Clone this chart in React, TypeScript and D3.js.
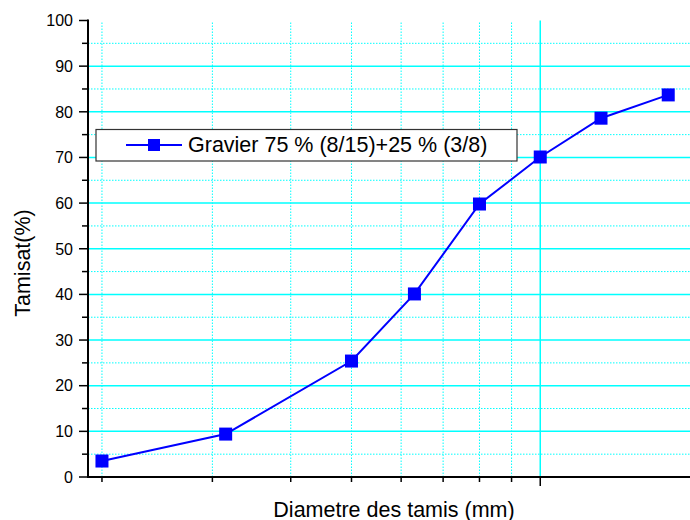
import React from "react";
import * as d3 from "d3";

const sieveSizes = [2, 3.15, 5, 6.3, 8, 10, 12.5, 16];
const passingPct = [3.5, 9.4, 25.4, 40.1, 59.8, 70.1, 78.6, 83.7];
const seriesName = "Gravier 75 % (8/15)+25 % (3/8)";
const yTicks = [0, 10, 20, 30, 40, 50, 60, 70, 80, 90, 100];
const yMinorTicks = [5, 15, 25, 35, 45, 55, 65, 75, 85, 95];
const xMajorTicks = [10];
const xMinorTicks = [2, 3, 4, 5, 6, 7, 8, 9, 20];
const xTitle = "Diametre des tamis (mm)";
const yTitle = "Tamisat(%)";

const W = 690;
const H = 520;
const left = 88;
const top = 20.5;
const bottom = 477;
const right = 729;

export default function App() {
  const x = d3.scaleLog().domain([1.9, 20]).range([left, right]);
  const y = d3.scaleLinear().domain([0, 100]).range([bottom, top]);
  const line = d3
    .line<number>()
    .x((_, i) => x(sieveSizes[i]))
    .y((d) => y(d));
  const cyan = "#00ffff";
  const font = "Liberation Sans, Arial, sans-serif";
  const ms = 13;
  return (
    <svg
      width={W}
      height={H}
      style={{ position: "absolute", left: 0, top: 0 }}
      fontFamily={font}
    >
      <rect width={W} height={H} fill="#fff" />
      {/* grid */}
      {yMinorTicks.map((t) => (
        <line key={"ym" + t} x1={left} x2={W} y1={y(t)} y2={y(t)} stroke={cyan} strokeWidth={1} strokeDasharray="1.5,1.5" />
      ))}
      {yTicks.filter((t) => t > 0 && t < 100).map((t) => (
        <line key={"yg" + t} x1={left} x2={W} y1={y(t)} y2={y(t)} stroke={cyan} strokeWidth={1.5} />
      ))}
      {xMinorTicks.map((t) => (
        <line key={"xm" + t} x1={x(t)} x2={x(t)} y1={top + 2} y2={bottom} stroke={cyan} strokeWidth={1} strokeDasharray="1.5,1.5" />
      ))}
      {xMajorTicks.map((t) => (
        <line key={"xg" + t} x1={x(t)} x2={x(t)} y1={top} y2={bottom} stroke={cyan} strokeWidth={1.5} />
      ))}
      {/* axes */}
      <line x1={left} x2={left} y1={top - 1} y2={bottom + 1} stroke="#000" strokeWidth={2} />
      <line x1={left - 1} x2={W} y1={bottom} y2={bottom} stroke="#000" strokeWidth={2} />
      {yTicks.map((t) => (
        <g key={"yt" + t}>
          <line x1={left - 9} x2={left} y1={y(t)} y2={y(t)} stroke="#000" strokeWidth={1.5} />
          <text x={left - 15} y={y(t)} dy="0.36em" textAnchor="end" fontSize={16} fill="#000">
            {t}
          </text>
        </g>
      ))}
      {yMinorTicks.map((t) => (
        <line key={"ymt" + t} x1={left - 6} x2={left} y1={y(t)} y2={y(t)} stroke="#000" strokeWidth={1.5} />
      ))}
      {xMinorTicks.map((t) => (
        <line key={"xmt" + t} x1={x(t)} x2={x(t)} y1={bottom} y2={bottom + 5} stroke="#000" strokeWidth={1.5} />
      ))}
      {xMajorTicks.map((t) => (
        <line key={"xmjt" + t} x1={x(t)} x2={x(t)} y1={bottom} y2={bottom + 9} stroke="#000" strokeWidth={1.5} />
      ))}
      <text x={394} y={516.5} textAnchor="middle" fontSize={21.5} fill="#000">
        {xTitle}
      </text>
      <text transform={`translate(30,263) rotate(-90)`} textAnchor="middle" fontSize={21.5} fill="#000">
        {yTitle}
      </text>
      {/* series */}
      <path d={line(passingPct) || ""} fill="none" stroke="#0000ff" strokeWidth={2} />
      {passingPct.map((v, i) => (
        <rect key={"m" + i} x={x(sieveSizes[i]) - ms / 2} y={y(v) - ms / 2} width={ms} height={ms} fill="#0000ff" />
      ))}
      {/* legend */}
      <rect x={96} y={129.5} width={421} height={31.5} fill="#fff" stroke="#333" strokeWidth={1.2} />
      <line x1={126} x2={182} y1={145} y2={145} stroke="#0000ff" strokeWidth={2} />
      <rect x={154 - 6} y={145 - 6} width={12} height={12} fill="#0000ff" />
      <text x={188} y={152.3} fontSize={21.5} fill="#000">
        {seriesName}
      </text>
    </svg>
  );
}
